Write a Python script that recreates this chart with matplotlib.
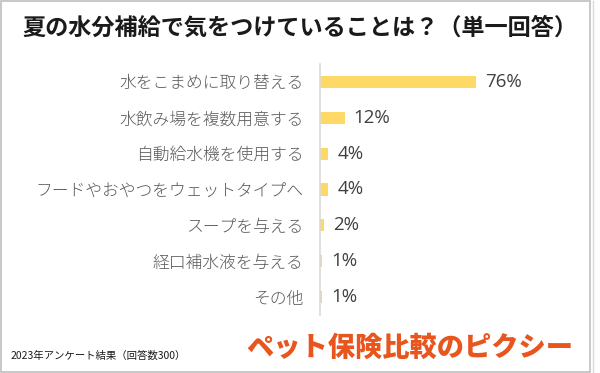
import matplotlib.pyplot as plt
from matplotlib.patches import Rectangle

plt.rcParams['font.family'] = ['Noto Sans CJK JP', 'DejaVu Sans']

TITLE = '夏の水分補給で気をつけていることは？（単一回答）'
categories = [
    '水をこまめに取り替える',
    '水飲み場を複数用意する',
    '自動給水機を使用する',
    'フードやおやつをウェットタイプへ',
    'スープを与える',
    '経口補水液を与える',
    'その他',
]
values = [76, 12, 4, 4, 2, 1, 1]
value_labels = ['76%', '12%', '4%', '4%', '2%', '1%', '1%']
NOTE = '2023年アンケート結果（回答数300）'
LOGO = 'ペット保険比較のピクシー'


def main():
  fig = plt.figure(figsize=(6, 3.73), dpi=100)
  ax = fig.add_axes([0.5333, 0.1555, 0.3417, 0.673])

  pos = list(range(len(categories)))
  ax.barh(pos, values, height=0.34, color='#FFD966')
  ax.set_ylim(len(categories) - 0.5, -0.5)
  ax.set_xlim(0, 100)
  ax.set_yticks(pos)
  ax.set_yticklabels(categories, fontsize=12.1, color='#595959',
                     fontweight='light')
  ax.tick_params(axis='y', length=0, pad=12)
  ax.set_xticks([])
  for s in ['top', 'right', 'bottom']:
    ax.spines[s].set_visible(False)
  ax.spines['left'].set_color('#D9D9D9')
  ax.spines['left'].set_linewidth(1.2)

  for p, v, lab in zip(pos, values, value_labels):
    ax.annotate(lab, (v, p), xytext=(6.5, 0), textcoords='offset points',
                va='center', ha='left', fontsize=13.5, color='#404040',
                family=['Open Sans', 'DejaVu Sans'])

  fig.text(0.037, 0.925, TITLE, fontsize=16.7, fontweight='bold',
           color='#1a1a1a', va='center', ha='left')
  fig.text(0.017, 0.045, NOTE, fontsize=7.5, color='#1a1a1a',
           va='center', ha='left')
  fig.text(0.955, 0.068, LOGO, fontsize=19.6, fontweight='black',
           color='#E8561E', va='center', ha='right')

  # frame
  fig.patches.append(Rectangle((0.002, 0.004), 0.981, 0.992,
                               transform=fig.transFigure, fill=False,
                               edgecolor='#BFBFBF', linewidth=1.2))
  fig.add_artist(plt.Line2D([0.989, 0.989], [0.004, 0.996],
                            transform=fig.transFigure, color='#D9D9D9',
                            linewidth=1))

  fig.savefig('out.png', dpi=100)


if __name__ == '__main__':
  main()
